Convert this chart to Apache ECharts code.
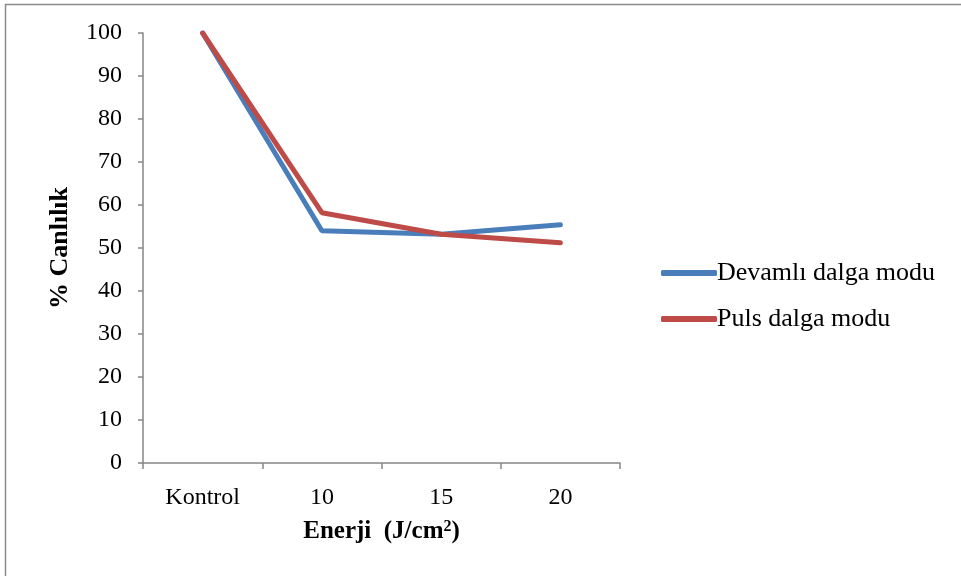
<!DOCTYPE html>
<html>
<head>
<meta charset="utf-8">
<script src="https://cdn.jsdelivr.net/npm/echarts@6/dist/echarts.min.js"></script>
<style>
  html, body { margin: 0; padding: 0; background: #fff; }
  #chart { width: 961px; height: 576px; }
</style>
</head>
<body>
<div id="chart"></div>
<script>
// Viability (%) by laser energy density for two wave modes
const categories = ['Kontrol', '10', '15', '20'];
const devamliValues = [100, 54.0, 53.2, 55.4];
const pulsValues = [100, 58.2, 53.2, 51.2];
const seriesNames = ['Devamlı dalga modu', 'Puls dalga modu'];

const serif = '"Liberation Serif", "DejaVu Serif", serif';
const axisGray = '#868686';

const chart = echarts.init(document.getElementById('chart'));
chart.setOption({
  animation: false,
  textStyle: { fontFamily: serif },
  graphic: [{
    type: 'rect',
    shape: { x: 5.5, y: 4.5, width: 1000, height: 700 },
    style: { fill: 'none', stroke: '#8c8c8c', lineWidth: 1.5 },
    silent: true
  }],
  grid: { left: 143, top: 33, width: 477, bottom: 113 },
  legend: {
    orient: 'vertical',
    left: 656,
    top: 255,
    itemGap: 20,
    itemWidth: 56,
    itemHeight: 6,
    icon: 'roundRect',
    textStyle: { fontFamily: serif, fontSize: 26, color: '#000', padding: [0, 0, 0, -5] },
    data: seriesNames
  },
  xAxis: {
    type: 'category',
    data: categories,
    boundaryGap: true,
    axisLine: { lineStyle: { color: axisGray, width: 1.5 } },
    axisTick: { show: true, length: 6, alignWithLabel: false, lineStyle: { color: axisGray, width: 1.5 } },
    axisLabel: { color: '#000', fontSize: 24, fontFamily: serif, margin: 23 },
    name: '{b|Enerji  (J/cm}{sup|2}{b|)}',
    nameLocation: 'middle',
    nameGap: 56,
    nameTextStyle: {
      rich: {
        b: { fontFamily: serif, fontSize: 25, fontWeight: 'bold', color: '#000' },
        sup: { fontFamily: serif, fontSize: 16, fontWeight: 'bold', color: '#000', verticalAlign: 'top', padding: [0, 0, 10, 0] }
      }
    }
  },
  yAxis: {
    type: 'value',
    min: 0,
    max: 100,
    interval: 10,
    axisLine: { show: true, lineStyle: { color: axisGray, width: 1.5 } },
    axisTick: { show: true, length: 5, lineStyle: { color: axisGray, width: 1.5 } },
    splitLine: { show: false },
    axisLabel: { color: '#000', fontSize: 24, fontFamily: serif, margin: 21 },
    name: '% Canlılık',
    nameLocation: 'middle',
    nameGap: 70,
    nameTextStyle: { fontFamily: serif, fontSize: 26, fontWeight: 'bold', color: '#000' }
  },
  series: [
    {
      name: seriesNames[0],
      type: 'line',
      data: devamliValues,
      symbol: 'none',
      lineStyle: { color: '#4a7ebb', width: 5, cap: 'round' },
      itemStyle: { color: '#4a7ebb' }
    },
    {
      name: seriesNames[1],
      type: 'line',
      data: pulsValues,
      symbol: 'none',
      lineStyle: { color: '#be4b48', width: 5, cap: 'round' },
      itemStyle: { color: '#be4b48' }
    }
  ]
});
</script>
</body>
</html>
